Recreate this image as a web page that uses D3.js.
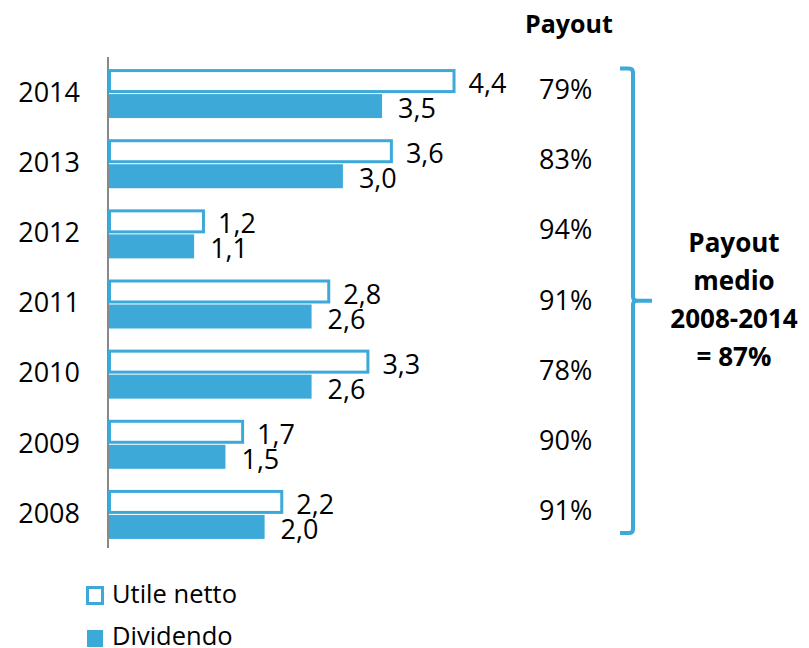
<!DOCTYPE html>
<html><head><meta charset="utf-8">
<script src="https://cdn.jsdelivr.net/npm/d3@7"></script>
<style>body{margin:0;background:#fff}svg{display:block}text{font-family:"Open Sans",sans-serif;fill:#000}</style>
</head><body><svg id="c" width="809" height="648"></svg>
<script>
const years = ["2014","2013","2012","2011","2010","2009","2008"];
const utile = [4.4, 3.6, 1.2, 2.8, 3.3, 1.7, 2.2];
const dividendo = [3.5, 3.0, 1.1, 2.6, 2.6, 1.5, 2.0];
const payout = ["79%","83%","94%","91%","78%","90%","91%"];
const seriesNames = ["Utile netto","Dividendo"];
const mediaLines = ["Payout","medio","2008-2014","= 87%"];

const blue = "#3DA9D9";
const svg = d3.select("#c");
const fmt = v => d3.format(".1f")(v).replace(".", ",");

const x = d3.scaleLinear().domain([0, 4.4]).range([108, 108 + 4.4 * 78.3]);
const y = d3.scaleBand().domain(years).range([57, 548]);
const sub = d3.scaleBand().domain(seriesNames).range([-23, 26]).paddingInner(0.04);

// axis
const axis = d3.axisLeft(y).tickSize(0).tickPadding(28);
const ag = svg.append("g").attr("transform", "translate(108,0)").call(axis);
ag.select(".domain").attr("stroke", "#888").attr("stroke-width", 2).attr("d", "M0,57V548");
ag.selectAll("text").attr("font-size", 27).attr("font-family", "Open Sans").attr("fill", "#000").attr("dy", "0.36em");

const rows = years.map((yr, i) => ({yr, u: utile[i], d: dividendo[i], p: payout[i]}));
const c = yr => y(yr) + y.bandwidth() / 2;

// utile bars (outlined)
svg.selectAll("rect.u").data(rows).join("rect").attr("class", "u")
  .attr("x", x(0) + 1.5)
  .attr("y", d => c(d.yr) + sub("Utile netto") + 1.5)
  .attr("width", d => x(d.u) - x(0))
  .attr("height", sub.bandwidth() - 3)
  .attr("fill", "#fff").attr("stroke", blue).attr("stroke-width", 3);

// dividendo bars
svg.selectAll("rect.d").data(rows).join("rect").attr("class", "d")
  .attr("x", x(0) + 1)
  .attr("y", d => c(d.yr) + sub("Dividendo"))
  .attr("width", d => x(d.d) - x(0) - 1)
  .attr("height", sub.bandwidth())
  .attr("fill", blue);

// value labels
svg.selectAll("text.ul").data(rows).join("text").attr("class", "ul")
  .attr("x", d => x(d.u) + 16)
  .attr("y", d => c(d.yr) + sub("Utile netto") + sub.bandwidth() / 2 + 12)
  .attr("font-size", 27).text(d => fmt(d.u));
svg.selectAll("text.dl").data(rows).join("text").attr("class", "dl")
  .attr("x", d => x(d.d) + 16)
  .attr("y", d => c(d.yr) + sub("Dividendo") + sub.bandwidth() / 2 + 12)
  .attr("font-size", 27).text(d => fmt(d.d));

// payout %
svg.selectAll("text.p").data(rows).join("text").attr("class", "p")
  .attr("x", 539)
  .attr("y", d => c(d.yr) + 7)
  .attr("font-size", 27).text(d => d.p);

svg.append("text").attr("x", 525).attr("y", 33).attr("font-size", 25).attr("font-weight", "bold").text("Payout");

// bracket
const bTop = c(years[0]) + sub("Utile netto") - 0.5;
const bBot = c(years[years.length - 1]) + sub("Dividendo") + sub.bandwidth() - 6;
const bMid = (bTop + bBot) / 2;
const bx = 633;
svg.append("path")
  .attr("d", `M620,${bTop}H${bx - 4}Q${bx},${bTop} ${bx},${bTop + 4}V${bMid - 4}Q${bx},${bMid} ${bx + 4},${bMid}H652M${bx + 4},${bMid}Q${bx},${bMid} ${bx},${bMid + 4}V${bBot - 4}Q${bx},${bBot} ${bx - 4},${bBot}H620`)
  .attr("fill", "none").attr("stroke", blue).attr("stroke-width", 4);

svg.selectAll("text.m").data(mediaLines).join("text").attr("class", "m")
  .attr("x", 734).attr("y", (d, i) => 252 + i * 38)
  .attr("text-anchor", "middle").attr("font-size", 26).attr("font-weight", "bold").text(d => d);

// legend
const lg = svg.append("g");
lg.append("rect").attr("x", 87.5).attr("y", 587.5).attr("width", 15).attr("height", 16)
  .attr("fill", "#fff").attr("stroke", blue).attr("stroke-width", 3);
lg.append("rect").attr("x", 87).attr("y", 630).attr("width", 16).attr("height", 17).attr("fill", blue);
lg.selectAll("text").data(seriesNames).join("text")
  .attr("x", 112).attr("y", (d, i) => 603 + i * 42)
  .attr("font-size", 25.5).text(d => d);
</script></body></html>
